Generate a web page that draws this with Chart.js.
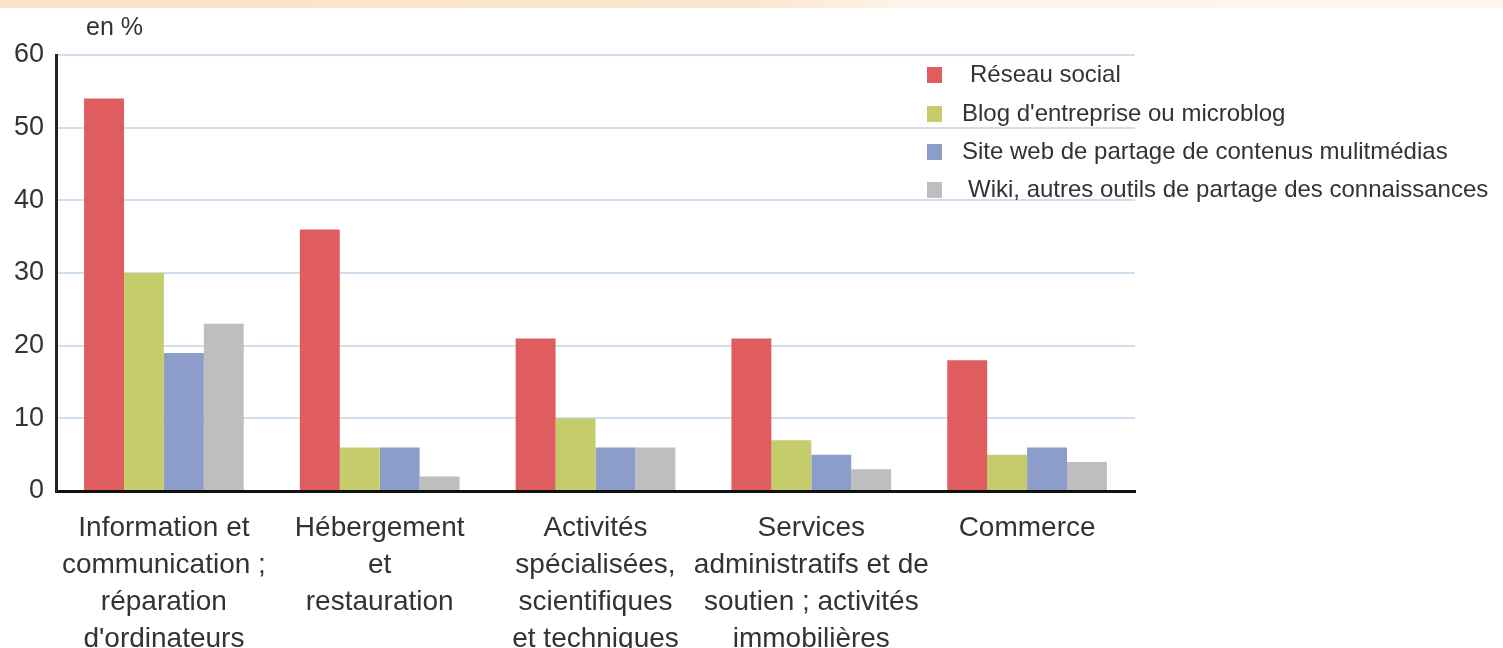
<!DOCTYPE html>
<html>
<head>
<meta charset="utf-8">
<script src="https://cdn.jsdelivr.net/npm/chart.js@4.4.1/dist/chart.umd.min.js"></script>
<style>
html,body{margin:0;padding:0;background:#fff;}
#wrap{position:relative;width:1503px;height:648px;}
#strip{position:absolute;left:0;top:0;width:1503px;height:8px;background:linear-gradient(90deg,#fbe2c6 0%,#fbe6cf 50%,#fdf3e8 60%,#fef8f1 100%);}
canvas{position:absolute;left:0;top:0;}
</style>
</head>
<body>
<div id="wrap">
<canvas id="c" width="1503" height="648"></canvas>
<div id="strip"></div>
</div>
<script>
const categories = [
  ["Information et","communication ;","réparation","d'ordinateurs"],
  ["Hébergement","et","restauration"],
  ["Activités","spécialisées,","scientifiques","et techniques"],
  ["Services","administratifs et de","soutien ; activités","immobilières"],
  ["Commerce"]
];
const seriesNames = [
  "Réseau social",
  "Blog d'entreprise ou microblog",
  "Site web de partage de contenus mulitmédias",
  "Wiki, autres outils de partage des connaissances"
];
const reseauSocial = [54, 36, 21, 21, 18];
const blog = [30, 6, 10, 7, 5];
const siteWeb = [19, 6, 6, 5, 6];
const wiki = [23, 2, 6, 3, 4];
const yTicks = [0, 10, 20, 30, 40, 50, 60];
const colors = ["#df5d5e", "#c4cc6c", "#8c9dc9", "#bebebe"];
const unitLabel = "en %";

const FONT = "'Liberation Sans', Arial, sans-serif";

const legendPlugin = {
  id: 'customLegend',
  afterDraw(chart) {
    const ctx = chart.ctx;
    ctx.save();
    const rows = [75, 114, 152, 190];
    const textX = [970, 962, 962, 968];
    seriesNames.forEach((name, i) => {
      ctx.fillStyle = colors[i];
      ctx.fillRect(927, rows[i] - 8, 15, 16);
      ctx.fillStyle = "#333";
      ctx.font = "24px " + FONT;
      ctx.textBaseline = "middle";
      ctx.textAlign = "left";
      ctx.fillText(name, textX[i], rows[i]);
    });
    ctx.font = "25px " + FONT;
    ctx.fillStyle = "#333";
    ctx.textBaseline = "middle";
    ctx.fillText(unitLabel, 86, 28);
    ctx.restore();
  }
};

const data = {
  labels: categories,
  datasets: [
    {label: seriesNames[0], data: reseauSocial, backgroundColor: colors[0]},
    {label: seriesNames[1], data: blog, backgroundColor: colors[1]},
    {label: seriesNames[2], data: siteWeb, backgroundColor: colors[2]},
    {label: seriesNames[3], data: wiki, backgroundColor: colors[3]}
  ]
};

new Chart(document.getElementById('c'), {
  type: 'bar',
  data: data,
  options: {
    responsive: false,
    animation: false,
    devicePixelRatio: 1,
    layout: {padding: {top: 55, right: 368, left: 0, bottom: 0}},
    plugins: {legend: {display: false}, tooltip: {enabled: false}},
    datasets: {bar: {barPercentage: 1, categoryPercentage: 0.74, borderWidth: 0}},
    scales: {
      x: {
        grid: {display: false},
        border: {color: "#111", width: 3},
        ticks: {
          color: "#333",
          font: {family: FONT, size: 28, lineHeight: 1.32},
          padding: 11,
          maxRotation: 0,
          autoSkip: false
        },
        afterFit(scale) { scale.height = 157; }
      },
      y: {
        min: 0, max: 60,
        afterBuildTicks(scale) { scale.ticks = yTicks.map(v => ({value: v})); },
        grid: {
          color: ctx => ctx.tick && ctx.tick.value === 0 ? 'rgba(0,0,0,0)' : '#cfdfef',
          lineWidth: 2,
          drawTicks: false
        },
        border: {color: "#222", width: 3},
        ticks: {
          color: "#333",
          font: {family: FONT, size: 27},
          padding: 12
        },
        afterFit(scale) { scale.width = 56; }
      }
    }
  },
  plugins: [legendPlugin]
});
</script>
</body>
</html>
